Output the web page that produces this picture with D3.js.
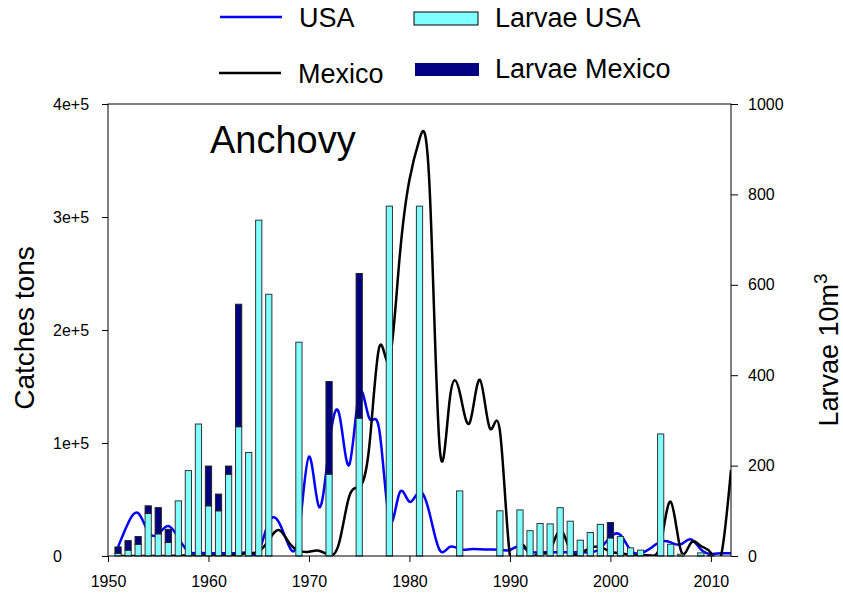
<!DOCTYPE html>
<html>
<head>
<meta charset="utf-8">
<script src="https://cdn.jsdelivr.net/npm/d3@7"></script>
<style>
  body { margin: 0; background: #fff; }
  svg { font-family: 'Liberation Sans', Arial, sans-serif; }
</style>
</head>
<body>
<div id="chart"></div>
<script>
// Catches (tons), one value per year 1951-2012
const catchYears = d3.range(1951, 2013);
const usaCatch = [
  8000, 29000, 38000, 21500, 19500, 26500, 16000, 4000, 2500, 2500,
  2500, 2500, 2500, 2500, 4000, 30000, 30000, 9000, 20000, 88000,
  43600, 96700, 126000, 80500, 144000, 122000, 111500, 32000, 55500, 48000,
  57000, 37800, 5300, 8000, 6000, 6000, 6000, 5800, 5500, 5300,
  8800, 3800, 3300, 3300, 3300, 3300, 3300, 3300, 6800, 17000,
  18600, 5300, 2400, 6800, 12700, 12000, 10300, 14800, 5900, 1800,
  2400, 2400
];
const mexicoCatch = [
  0, 0, 0, 0, 0, 0, 500, 500, 500, 500,
  500, 500, 1500, 2500, 4000, 14000, 23000, 12000, 4700, 3800,
  4700, 900, 11500, 52500, 61300, 96700, 185000, 173000, 262000, 333000,
  369000, 327000, 96700, 138000, 145000, 118000, 156000, 113000, 111000, 0,
  8000, 800, 2500, 5000, 23000, 5000, 2500, 7000, 8000, 3800,
  2500, 900, 500, 500, 11000, 48000, 5300, 11500, 8800, 2700,
  0, 76000
];

// Larvae per 10 m3, only years with surveys
const larvaeYears = [1951, 1952, 1953, 1954, 1955, 1956, 1957, 1958, 1959, 1960,
  1961, 1962, 1963, 1964, 1965, 1966, 1969, 1972, 1975, 1978, 1981, 1985, 1989,
  1991, 1992, 1993, 1994, 1995, 1996, 1997, 1998, 1999, 2000, 2001, 2002, 2003,
  2005, 2006, 2007, 2009, 2010];
const larvaeUSA = [6, 13, 26, 94, 49, 30, 122, 189, 292, 111,
  100, 181, 286, 229, 743, 579, 473, 181, 305, 774, 774, 144, 100,
  102, 56, 72, 71, 107, 77, 35, 52, 70, 40, 43, 18, 13,
  270, 26, 4, 7, 2];
const larvaeMexico = [14, 21, 17, 17, 58, 29, 0, 0, 0, 88,
  37, 18, 271, 0, 0, 0, 0, 205, 320, 0, 0, 0, 0,
  0, 0, 0, 0, 0, 0, 0, 0, 0, 34, 0, 0, 0,
  0, 0, 0, 0, 0];

const leftTicks = [0, 1e5, 2e5, 3e5, 4e5];
const rightTicks = [0, 200, 400, 600, 800, 1000];
const yearTicks = [1950, 1960, 1970, 1980, 1990, 2000, 2010];

const width = 843;
const height = 594;
const plot = { left: 108, right: 731, top: 104, bottom: 556 };
const cyan = '#80ffff';
const navy = '#000080';

const svg = d3.select('#chart').append('svg')
  .attr('width', width)
  .attr('height', height);

const x = d3.scaleLinear().domain([1950, 2012]).range([plot.left, plot.right]);
const yL = d3.scaleLinear().domain([0, 4e5]).range([plot.bottom, plot.top]);
const yR = d3.scaleLinear().domain([0, 1000]).range([plot.bottom, plot.top]);

svg.append('defs').append('clipPath').attr('id', 'clip')
  .append('rect')
  .attr('x', plot.left).attr('y', plot.top)
  .attr('width', plot.right - plot.left)
  .attr('height', plot.bottom - plot.top);

// Catch lines (drawn under the bars)
const line = d3.line()
  .x((d) => x(d[0]))
  .y((d) => yL(d[1]))
  .curve(d3.curveNatural);

const lines = svg.append('g').attr('clip-path', 'url(#clip)');
lines.append('path')
  .datum(catchYears.map((yr, i) => [yr, usaCatch[i]]))
  .attr('d', line)
  .attr('fill', 'none')
  .attr('stroke', '#0000ff')
  .attr('stroke-width', 2.5);
lines.append('path')
  .datum(catchYears.map((yr, i) => [yr, mexicoCatch[i]]))
  .attr('d', line)
  .attr('fill', 'none')
  .attr('stroke', '#000')
  .attr('stroke-width', 2.5);

// Stacked larvae bars: USA at the bottom, Mexico on top
const barW = x(1950.62) - x(1950);
const larvae = larvaeYears.map((yr, i) => ({ yr, usa: larvaeUSA[i], mex: larvaeMexico[i] }));
const bars = svg.append('g');
bars.selectAll('.bar-usa')
  .data(larvae.filter((d) => d.usa > 0))
  .enter()
  .append('rect')
  .attr('class', 'bar-usa')
  .attr('x', (d) => x(d.yr) - barW / 2)
  .attr('y', (d) => yR(d.usa))
  .attr('width', barW)
  .attr('height', (d) => yR(0) - yR(d.usa))
  .attr('fill', cyan)
  .attr('stroke', '#333')
  .attr('stroke-width', 1);
bars.selectAll('.bar-mex')
  .data(larvae.filter((d) => d.mex > 0))
  .enter()
  .append('rect')
  .attr('class', 'bar-mex')
  .attr('x', (d) => x(d.yr) - barW / 2)
  .attr('y', (d) => yR(d.usa + d.mex))
  .attr('width', barW)
  .attr('height', (d) => yR(d.usa) - yR(d.usa + d.mex))
  .attr('fill', navy)
  .attr('stroke', '#222')
  .attr('stroke-width', 1);

// Frame
svg.append('rect')
  .attr('x', plot.left).attr('y', plot.top)
  .attr('width', plot.right - plot.left)
  .attr('height', plot.bottom - plot.top)
  .attr('fill', 'none')
  .attr('stroke', '#000')
  .attr('stroke-width', 1);

// Axes
const leftAxis = svg.append('g')
  .attr('transform', `translate(${plot.left},0)`)
  .call(d3.axisLeft(yL).tickValues(leftTicks).tickSize(6)
    .tickFormat((d) => (d === 0 ? '0' : `${d / 1e5}e+5`)));
leftAxis.selectAll('text')
  .attr('x', -55)
  .attr('text-anchor', 'start');

const rightAxis = svg.append('g')
  .attr('transform', `translate(${plot.right},0)`)
  .call(d3.axisRight(yR).tickValues(rightTicks).tickSize(7).tickFormat(d3.format('d')));
rightAxis.selectAll('text').attr('x', 17);

const bottomAxis = svg.append('g')
  .attr('transform', `translate(0,${plot.bottom})`)
  .call(d3.axisBottom(x).tickValues(yearTicks).tickSize(6).tickFormat(d3.format('d')));
bottomAxis.selectAll('text').attr('y', 20);

svg.selectAll('.domain').remove();
svg.selectAll('.tick line').attr('stroke', '#000');
svg.selectAll('.tick text')
  .attr('fill', '#000')
  .style('font-size', '16px')
  .style('font-family', "'Liberation Sans', Arial, sans-serif");

// Axis titles
svg.append('text')
  .attr('transform', 'translate(34,328) rotate(-90)')
  .attr('text-anchor', 'middle')
  .style('font-size', '28px')
  .text('Catches tons');

const rTitle = svg.append('text')
  .attr('transform', 'translate(838,350) rotate(-90)')
  .attr('text-anchor', 'middle')
  .style('font-size', '27px');
rTitle.append('tspan').text('Larvae 10m');
rTitle.append('tspan').attr('dy', -11).style('font-size', '19px').text('3');

// Panel label
svg.append('text')
  .attr('x', 210)
  .attr('y', 153)
  .style('font-size', '38px')
  .text('Anchovy');

// Legend
const legend = svg.append('g').style('font-size', '27px');
legend.append('line')
  .attr('x1', 220).attr('x2', 282).attr('y1', 17).attr('y2', 17)
  .attr('stroke', '#0000ff').attr('stroke-width', 2.5);
legend.append('text').attr('x', 299).attr('y', 27).text('USA');
legend.append('line')
  .attr('x1', 219).attr('x2', 281).attr('y1', 73).attr('y2', 73)
  .attr('stroke', '#000').attr('stroke-width', 2.5);
legend.append('text').attr('x', 298).attr('y', 83).text('Mexico');
legend.append('rect')
  .attr('x', 414).attr('y', 12).attr('width', 64).attr('height', 13)
  .attr('fill', cyan).attr('stroke', '#000');
legend.append('text').attr('x', 495).attr('y', 27).text('Larvae USA');
legend.append('rect')
  .attr('x', 415).attr('y', 63).attr('width', 64).attr('height', 13)
  .attr('fill', navy);
legend.append('text').attr('x', 495).attr('y', 78).text('Larvae Mexico');
</script>
</body>
</html>
